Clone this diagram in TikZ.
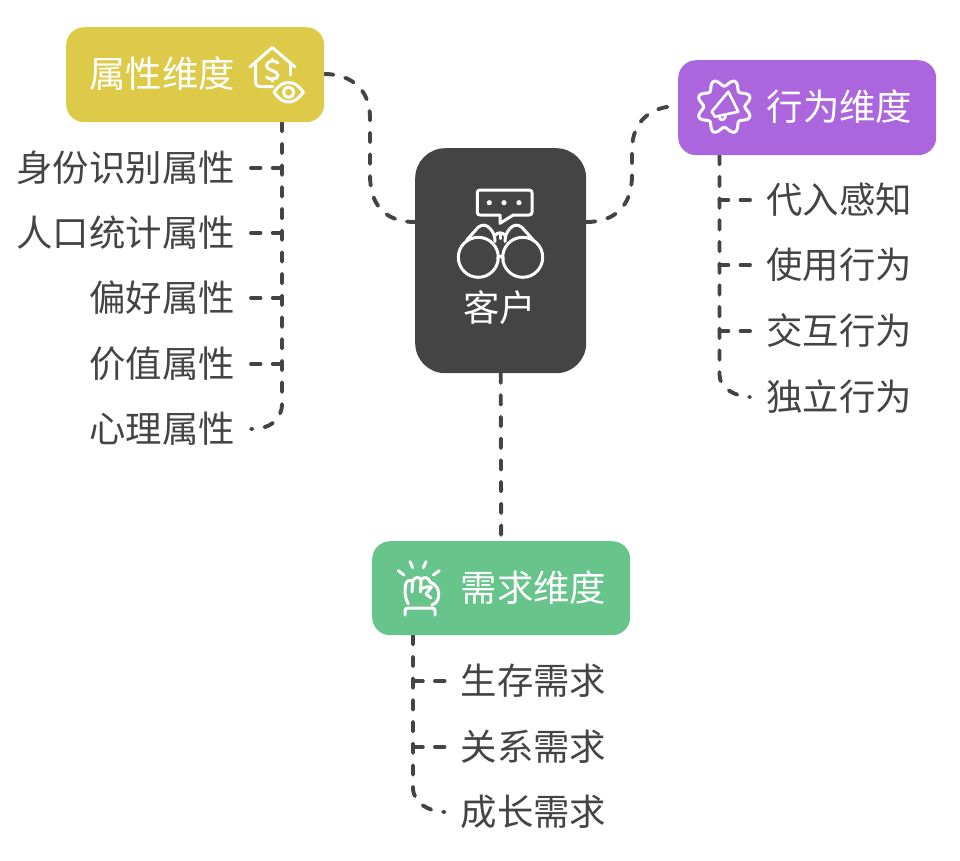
\documentclass[tikz,border=0pt]{standalone}
\usepackage{fontspec}
\setmainfont{Noto Sans CJK SC}
\usetikzlibrary{calc}
\definecolor{ink}{HTML}{444444}
\definecolor{yellowbox}{HTML}{DDCA48}
\definecolor{purplebox}{HTML}{AC66DD}
\definecolor{greenbox}{HTML}{67C48A}
\tikzset{
  x=1pt,y=-1pt,
  dimbox/.style={rounded corners=18pt,inner sep=0pt,anchor=north west},
  boxlabel/.style={text=white,font=\fontsize{36.4}{36.4}\selectfont,inner sep=0pt,anchor=center},
  leaf/.style={text=ink,font=\fontsize{36.4}{36.4}\selectfont,inner xsep=16pt,inner ysep=0pt,anchor=east},
  link/.style={draw=ink,line width=3.9pt,line cap=round,dash pattern=on 9.5pt off 12.2pt},
  icon/.style={draw=white,line width=3pt,line cap=round,line join=round},
}
\begin{document}
\begin{tikzpicture}
\useasboundingbox (0,0) rectangle (960,860);
\coordinate (rootL) at (415,222);
\coordinate (rootR) at (586,222);
\coordinate (attrPort) at (324,74);
\coordinate (actPort) at (678,106);
\coordinate (attrTrunk) at (282,122);
\coordinate (actTrunk) at (719.5,155);
\coordinate (needTrunk) at (413,635);

% leaves
\node[leaf] (a1) at (251,168) {身份识别属性};
\node[leaf] (a2) at (251,233) {人口统计属性};
\node[leaf] (a3) at (251,298) {偏好属性};
\node[leaf] (a4) at (251,364) {价值属性};
\node[leaf] (a5) at (251,429) {心理属性};
\node[leaf,anchor=west] (b1) at (750,200) {代入感知};
\node[leaf,anchor=west] (b2) at (750,265) {使用行为};
\node[leaf,anchor=west] (b3) at (750,331) {交互行为};
\node[leaf,anchor=west] (b4) at (750,397) {独立行为};
\node[leaf,anchor=west] (c1) at (444.5,681) {生存需求};
\node[leaf,anchor=west] (c2) at (444.5,747) {关系需求};
\node[leaf,anchor=west] (c3) at (444.5,812) {成长需求};

% connectors root to boxes
\draw[link] (attrPort) .. controls (352,74) and (370,90) .. (370,118) -- (370,175) .. controls (370,205) and (385,222) .. (rootL);
\draw[link] (rootR) .. controls (616,222) and (632,205) .. (632,175) -- (632,150) .. controls (632,122) and (650,106) .. (actPort);

% attribute tree
\draw[link] (attrTrunk) -- (282,403.5) .. controls (282,420) and (270,429) .. (a5.east);
\draw[link] (a1.east) -- (282,168);
\draw[link] (a2.east) -- (282,233);
\draw[link] (a3.east) -- (282,298);
\draw[link] (a4.east) -- (282,364);
% behaviour tree
\draw[link] (actTrunk) -- (719.5,375) .. controls (719.5,388) and (736,397) .. (b4.west);
\draw[link] (b1.west) -- (719.5,200);
\draw[link] (b2.west) -- (719.5,265);
\draw[link] (b3.west) -- (719.5,331);
% need tree
\draw[link] (needTrunk) -- (413,787.7) .. controls (413,804) and (431,812) .. (c3.west);
\draw[link] (c1.west) -- (413,681);
\draw[link] (c2.west) -- (413,747);

% boxes
\node[dimbox,fill=yellowbox,minimum width=258pt,minimum height=95pt] (attr) at (66,27) {};
\node[dimbox,fill=purplebox,minimum width=258pt,minimum height=95pt] (act) at (678,60) {};
\node[dimbox,fill=greenbox,minimum width=258pt,minimum height=94pt] (need) at (372,541) {};
\node[dimbox,fill=ink,rounded corners=30pt,minimum width=171pt,minimum height=225pt] (root) at (415,148) {};
\draw[link] (root.south) -- (need.north);

% box labels
\node[boxlabel] (attrT) at (162,74) {属性维度};
\node[boxlabel] (actT) at (839.5,106.5) {行为维度};
\node[boxlabel] (needT) at (533.5,588) {需求维度};
\node[boxlabel] (rootT) at (499.5,308) {客户};

% house icon
\draw[icon] (250,67) -- (272.3,47.5) -- (295,67);
\draw[icon] (255.7,63) -- (255.7,81.7) .. controls (255.7,85) and (257,86.7) .. (260,86.7) -- (273,86.7);
\draw[icon] (290,63) -- (290,75);
\draw[icon] (278,63) .. controls (275.5,60) and (267,60) .. (266.5,65.5) .. controls (266,71) and (278,70) .. (278,75.5) .. controls (278,80) and (268.5,80) .. (266.5,77);
\draw[icon] (272.3,59) -- (272.3,61) (272.3,78.5) -- (272.3,81);
\draw[icon] (274,92.3) .. controls (279,85) and (283,82.5) .. (288.6,82.5) .. controls (294,82.5) and (298,85) .. (303.5,92.3) .. controls (298,99) and (294,102) .. (288.6,102) .. controls (283,102) and (279,99) .. (274,92.3) -- cycle;
\draw[icon] (288.6,92.3) circle[radius=5.2];

% binoculars
\draw[icon] (480,190) -- (529,190) .. controls (531,190) and (532,191) .. (532,193) -- (532,212) .. controls (532,214) and (531,215) .. (529,215) -- (513.3,215) -- (500,223.3) -- (500,215) -- (480,215) .. controls (478,215) and (477.3,214) .. (477.3,212) -- (477.3,193) .. controls (477.3,191) and (478,190) .. (480,190) -- cycle;
\fill[white] (489.3,202.7) circle[radius=2.6] (504,202.7) circle[radius=2.6] (519,202.7) circle[radius=2.6];
\draw[icon] (478.3,257.3) circle[radius=20] (522.7,257.3) circle[radius=20];
\draw[icon] (497.5,258.5) .. controls (499,255.5) and (502,255.5) .. (503.5,258.5);
\draw[icon] (466.7,240) -- (478,227.5) .. controls (482,223.5) and (487,225) .. (490,228.5) .. controls (493,232) and (495,235) .. (495,241.5);
\draw[icon] (533.3,240) -- (522,227.5) .. controls (518,223.5) and (513,225) .. (510,228.5) .. controls (507,232) and (505,235) .. (505,241.5);
\draw[icon] (495,235.5) .. controls (497,232) and (503,232) .. (505,235.5);
\draw[icon] (500,233) -- (500,238.5);

% gear with megaphone
\draw[icon] plot[domain=0:360,samples=145,smooth] ({724.3+(24-3.4*cos(8*\x))*cos(\x)},{106.7+(24-3.4*cos(8*\x))*sin(\x)}) -- cycle;
\draw[icon,line width=2.6pt] (728.3,91.7) -- (711.7,111.7) -- (715,116.7) -- (738.3,111.7) -- cycle;
\draw[icon,line width=2.6pt] (719,116) .. controls (719,122) and (726,121) .. (725.5,114.5);

% fist
\draw[icon] (398.3,570.7) -- (404,575) (410,561.7) -- (412.7,567.7) (426,561.7) -- (423.3,567.7) (439.3,570.7) -- (433.3,575);
\draw[icon] (408.3,604) .. controls (405,598) and (404.5,592) .. (405.5,585) .. controls (406,580) and (411,579) .. (412.5,582) .. controls (413,577) and (420,576) .. (421,580) .. controls (423,576) and (429,577) .. (430,582) .. controls (436,584) and (440,590) .. (438.5,597) .. controls (437.5,602) and (435,604) .. (432,605);
\draw[icon] (412.5,582) -- (412,592) (421,580) -- (420.5,592);
\draw[icon] (421,589) .. controls (424,587) and (428,586.5) .. (431.5,587) -- (426,594) -- (431,598);
\draw[icon] (405,615) -- (405,611) .. controls (405,609) and (406,608) .. (408,608) -- (432,608) .. controls (434,608) and (435,609) .. (435,611) -- (435,615);
\end{tikzpicture}
\end{document}
